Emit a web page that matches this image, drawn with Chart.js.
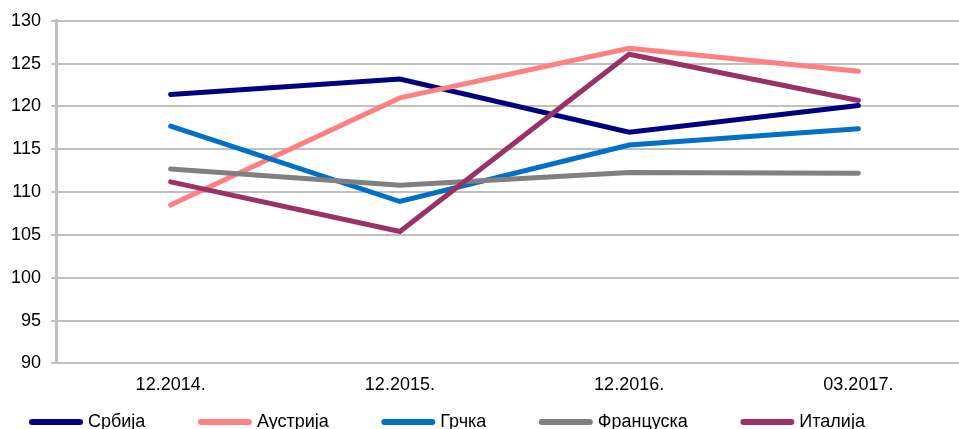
<!DOCTYPE html>
<html>
<head>
<meta charset="utf-8">
<script src="https://cdn.jsdelivr.net/npm/chart.js@4"></script>
<style>
html,body{margin:0;padding:0;background:#fff;overflow:hidden;width:959px;height:429px;}
#wrap{position:absolute;left:0;top:0;width:975px;height:429px;}
</style>
</head>
<body>
<div id="wrap"><canvas id="c" width="975" height="429"></canvas></div>
<script>
const categories = ['12.2014.', '12.2015.', '12.2016.', '03.2017.'];
const serbia  = [121.4, 123.2, 117.0, 120.1];
const austria = [108.5, 121.0, 126.8, 124.1];
const greece  = [117.7, 108.9, 115.5, 117.4];
const france  = [112.7, 110.8, 112.3, 112.2];
const italy   = [111.2, 105.4, 126.1, 120.7];
const seriesNames = ['Србија', 'Аустрија', 'Грчка', 'Француска', 'Италија'];
const seriesValues = [serbia, austria, greece, france, italy];
const seriesColors = ['#000080', '#FF8080', '#0070C8', '#808080', '#993366'];
const yTicks = [90, 95, 100, 105, 110, 115, 120, 125, 130];

const FONT = '"Liberation Sans", Arial, sans-serif';

const customLegend = {
  id: 'customLegend',
  afterDraw(chart) {
    const ctx = chart.ctx;
    ctx.save();
    ctx.font = '18px ' + FONT;
    ctx.textBaseline = 'middle';
    ctx.textAlign = 'left';
    let x = 29;
    const y = 422;
    chart.data.datasets.forEach(ds => {
      ctx.strokeStyle = ds.borderColor;
      ctx.lineWidth = 6;
      ctx.lineCap = 'round';
      ctx.beginPath();
      ctx.moveTo(x + 3, y);
      ctx.lineTo(x + 51, y);
      ctx.stroke();
      ctx.fillStyle = '#000';
      ctx.fillText(ds.label, x + 59, y);
      x += 59 + ctx.measureText(ds.label).width + 52.5;
    });
    ctx.restore();
  }
};

const datasets = seriesNames.map((name, i) => ({
  label: name,
  data: seriesValues[i],
  borderColor: seriesColors[i],
  backgroundColor: seriesColors[i],
  borderWidth: 5,
  borderCapStyle: 'round',
  borderJoinStyle: 'miter',
  pointRadius: 0,
  tension: 0,
  fill: false,
  order: seriesNames.length - i
}));

new Chart(document.getElementById('c'), {
  type: 'line',
  data: { labels: categories, datasets },
  options: {
    responsive: false,
    animation: false,
    layout: { padding: { left: 1, right: 2, top: 11, bottom: 22 } },
    plugins: { legend: { display: false }, tooltip: { enabled: false } },
    scales: {
      x: {
        offset: true,
        grid: { display: false, drawTicks: false },
        border: { color: '#c0c0c0', width: 2 },
        ticks: { color: '#000', font: { family: FONT, size: 18 }, padding: 11, maxRotation: 0 }
      },
      y: {
        min: yTicks[0],
        max: yTicks[yTicks.length - 1],
        afterBuildTicks: axis => { axis.ticks = yTicks.map(v => ({ value: v })); },
        grid: { color: '#c0c0c0', lineWidth: 2, tickLength: 5, drawTicks: true },
        border: { color: '#c0c0c0', width: 3 },
        ticks: { color: '#000', font: { family: FONT, size: 18 }, padding: 10 }
      }
    }
  },
  plugins: [customLegend]
});
</script>
</body>
</html>
